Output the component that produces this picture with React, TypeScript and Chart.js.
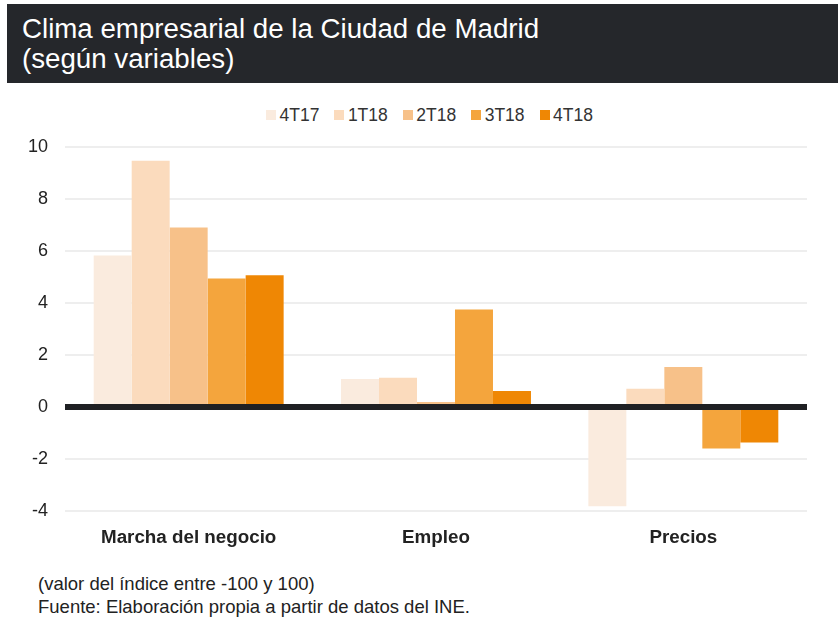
import React, { useEffect, useRef } from "react";
import { Chart, registerables } from "chart.js";

Chart.register(...registerables);

const categories = ["Marcha del negocio", "Empleo", "Precios"];
const seriesLabels = ["4T17", "1T18", "2T18", "3T18", "4T18"];
const s4T17 = [5.82, 1.07, -3.82];
const s1T18 = [9.46, 1.12, 0.7];
const s2T18 = [6.9, 0.19, 1.54];
const s3T18 = [4.94, 3.75, -1.6];
const s4T18 = [5.06, 0.61, -1.37];
const seriesColors = ["#FAEBDE", "#FBDBBD", "#F7C189", "#F4A53D", "#EF8704"];
const yMin = -4;
const yMax = 10;
const yStep = 2;

const titleLine1 = "Clima empresarial de la Ciudad de Madrid";
const titleLine2 = "(según variables)";
const footLine1 = "(valor del índice entre -100 y 100)";
const footLine2 = "Fuente: Elaboración propia a partir de datos del INE.";

const FONT = "'Liberation Sans', Arial, Helvetica, sans-serif";

const zeroLinePlugin = {
  id: "zeroLine",
  afterDatasetsDraw(chart: any) {
    const { ctx, chartArea, scales } = chart;
    const y = scales.y.getPixelForValue(0);
    ctx.save();
    ctx.strokeStyle = "#1F2023";
    ctx.lineWidth = 6;
    ctx.beginPath();
    ctx.moveTo(chartArea.left, y);
    ctx.lineTo(chartArea.right, y);
    ctx.stroke();
    ctx.restore();
  },
};

export default function App() {
  const canvasRef = useRef<HTMLCanvasElement | null>(null);

  useEffect(() => {
    const seriesData = [s4T17, s1T18, s2T18, s3T18, s4T18];
    const chart = new Chart(canvasRef.current as HTMLCanvasElement, {
      type: "bar",
      data: {
        labels: categories,
        datasets: seriesLabels.map((label, i) => ({
          label,
          data: seriesData[i],
          backgroundColor: seriesColors[i],
          borderWidth: 0,
          barPercentage: 1,
          categoryPercentage: 0.768,
        })),
      },
      options: {
        animation: false,
        responsive: false,
        maintainAspectRatio: false,
        layout: { padding: { left: 0, right: 31, top: 5.2, bottom: 0 } },
        plugins: {
          legend: { display: false },
          tooltip: { enabled: false },
        },
        scales: {
          x: {
            grid: { display: false, drawTicks: false },
            border: { display: false },
            ticks: {
              color: "#222222",
              font: { family: FONT, size: 18.8, weight: "bold" },
              padding: 16,
            },
            afterFit(scale: any) {
              scale.height = 49;
            },
          },
          y: {
            min: yMin,
            max: yMax,
            grid: {
              color: "#EEEEEE",
              lineWidth: 2,
              drawTicks: false,
            },
            border: { display: false },
            ticks: {
              stepSize: yStep,
              color: "#222222",
              font: { family: FONT, size: 18 },
              padding: 17,
            },
            afterFit(scale: any) {
              scale.width = 65;
            },
          },
        },
      },
      plugins: [zeroLinePlugin],
    });
    return () => chart.destroy();
  }, []);

  return (
    <div
      style={{
        position: "fixed",
        left: 0,
        top: 0,
        width: 838,
        height: 621,
        background: "#ffffff",
        fontFamily: FONT,
        overflow: "hidden",
      }}
    >
      <div
        style={{
          position: "absolute",
          left: 7,
          top: 4,
          width: 831,
          height: 79,
          background: "#25272B",
          color: "#ffffff",
        }}
      >
        <div
          style={{
            position: "absolute",
            left: 15,
            top: 9.5,
            fontSize: 27.7,
            lineHeight: "30px",
            whiteSpace: "nowrap",
          }}
        >
          {titleLine1}
          <br />
          {titleLine2}
        </div>
      </div>
      <div
        style={{
          position: "absolute",
          left: 266,
          top: 104,
          height: 22,
          display: "flex",
          alignItems: "center",
          whiteSpace: "nowrap",
          fontSize: 17.5,
          color: "#333333",
        }}
      >
        {seriesLabels.map((l, i) => (
          <div
            key={l}
            style={{ display: "flex", alignItems: "center", marginRight: 15 }}
          >
            <span
              style={{
                display: "inline-block",
                width: 10,
                height: 10,
                background: seriesColors[i],
                marginRight: 3.5,
              }}
            />
            <span>{l}</span>
          </div>
        ))}
      </div>
      <canvas
        ref={canvasRef}
        width={838}
        height={441}
        style={{ position: "absolute", left: 0, top: 119, width: 838, height: 441 }}
      />
      <div
        style={{
          position: "absolute",
          left: 38,
          top: 572,
          fontSize: 18.5,
          lineHeight: "23px",
          color: "#222222",
          whiteSpace: "nowrap",
        }}
      >
        {footLine1}
        <br />
        {footLine2}
      </div>
    </div>
  );
}
